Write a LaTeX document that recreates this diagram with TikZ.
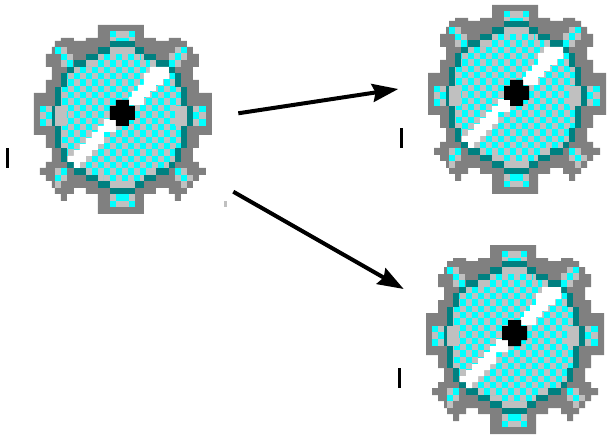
\documentclass[tikz,border=0pt]{standalone}
\usetikzlibrary{arrows.meta}
\definecolor{gearGray}{HTML}{808080}
\definecolor{gearLight}{HTML}{C0C0C0}
\definecolor{gearCyan}{HTML}{00FFFF}
\definecolor{gearTeal}{HTML}{008080}
\newcommand{\Rc}[5]{\fill[#1] (#2,#3) rectangle (#4,#5);}
\newcommand{\gearicon}[2]{%
\begin{scope}[shift={(#1,#2)},x=0.33333pt,y=-0.33333pt]
% outline
\fill[gearGray] (294,45)--(432,45)--(432,84)--(468,84)--(468,93)--(507,93)--(507,84)--(543,84)--(543,93)--(561,93)--(561,111)--(579,111)--(579,132)--(597,132)--(597,171)--(579,171)--(579,210)--(597,210)--(597,249)--(636,249)--(636,375)--(597,375)--(597,414)--(579,414)--(579,456)--(597,456)--(597,474)--(618,474)--(618,495)--(597,495)--(597,513)--(579,513)--(579,534)--(561,534)--(561,552)--(543,552)--(543,573)--(525,573)--(525,552)--(507,552)--(507,534)--(468,534)--(468,552)--(432,552)--(432,612)--(294,612)--(294,552)--(258,552)--(258,534)--(222,534)--(222,552)--(201,552)--(201,573)--(183,573)--(183,552)--(165,552)--(165,534)--(156,534)--(156,513)--(138,513)--(138,495)--(120,495)--(120,474)--(138,474)--(138,456)--(156,456)--(156,414)--(138,414)--(138,375)--(102,375)--(102,249)--(138,249)--(138,210)--(156,210)--(156,171)--(138,171)--(138,132)--(156,132)--(156,111)--(165,111)--(165,93)--(183,93)--(183,84)--(222,84)--(222,93)--(258,93)--(258,84)--(294,84)--cycle;
% light disk
\fill[gearLight] (330,111)--(405,111)--(405,132)--(432,132)--(432,150)--(468,150)--(468,171)--(507,171)--(507,189)--(525,189)--(525,231)--(543,231)--(543,288)--(561,288)--(561,348)--(543,348)--(543,414)--(525,414)--(525,456)--(507,456)--(507,474)--(468,474)--(468,495)--(432,495)--(432,513)--(405,513)--(405,534)--(330,534)--(330,513)--(294,513)--(294,495)--(258,495)--(258,474)--(222,474)--(222,456)--(201,456)--(201,414)--(183,414)--(183,348)--(165,348)--(165,288)--(183,288)--(183,231)--(201,231)--(201,189)--(222,189)--(222,171)--(258,171)--(258,150)--(294,150)--(294,132)--(330,132)--cycle;
% checker
\begin{scope}
\clip (312,132)--(423,132)--(423,150)--(450,150)--(450,171)--(507,171)--(507,189)--(525,189)--(525,231)--(543,231)--(543,288)--(525,288)--(525,348)--(543,348)--(543,414)--(525,414)--(525,456)--(507,456)--(507,474)--(450,474)--(450,495)--(423,495)--(423,513)--(312,513)--(312,495)--(276,495)--(276,474)--(222,474)--(222,456)--(201,456)--(201,414)--(183,414)--(183,348)--(201,348)--(201,288)--(183,288)--(183,231)--(201,231)--(201,189)--(222,189)--(222,171)--(294,171)--(294,150)--(312,150)--cycle;
\foreach \j in {0,...,20}{
 \pgfmathsetmacro{\yy}{3*round((132+19.05*\j)/3)}
 \pgfmathsetmacro{\yb}{3*round((132+19.05*(\j+1))/3)}
 \pgfmathsetmacro{\xs}{int(mod(\j,2))==0 ? 204 : 186}
 \foreach \i in {0,...,10}{
  \pgfmathsetmacro{\xa}{3*round((\xs+36.1*\i)/3)}
  \pgfmathsetmacro{\xb}{3*round((\xs+36.1*\i+18.05)/3)}
  \fill[gearCyan] (\xa,\yy) rectangle (\xb,\yb);
 }
}
\end{scope}
% teal ring
\foreach \a/\b/\c/\d in {330/93/405/111,294/111/330/132,405/111/432/132,258/132/294/150,432/132/468/150,222/150/258/171,468/150/507/171,201/171/222/189,507/171/525/189,183/189/201/231,525/189/543/231,165/231/183/288,543/231/561/288,156/288/165/348,561/288/579/348,165/348/183/414,543/348/561/414,183/414/201/456,525/414/543/456,201/456/222/474,507/456/525/474,222/474/258/495,468/474/507/495,258/495/294/513,432/495/468/513,294/513/330/534,405/513/432/534,330/534/405/552}{\Rc{gearTeal}{\a}{\b}{\c}{\d}}
% light parts of teeth and corners
\foreach \a/\b/\c/\d in {330/63/405/93,120/288/156/348,579/288/618/348,330/552/405/591,165/111/201/132,183/132/219/150,183/150/219/171,525/111/561/129,507/129/561/150,507/150/543/171,165/474/201/495,165/495/201/513,165/513/183/534,525/474/561/495,525/495/579/513,543/513/561/534}{\Rc{gearLight}{\a}{\b}{\c}{\d}}
% cyan parts of teeth and corners
\foreach \a/\b/\c/\d in {330/63/348/81,387/63/405/81,348/84/387/93,348/552/387/573,330/573/348/591,387/573/405/591,120/288/138/306,138/306/156/327,120/327/138/348,597/288/618/306,579/306/597/327,597/327/618/348,165/111/183/132,183/132/201/150,201/150/219/171,543/111/561/129,525/129/543/150,507/150/525/171,183/474/201/495,165/495/183/513,525/474/543/495,543/495/561/513}{\Rc{gearCyan}{\a}{\b}{\c}{\d}}
% white stripe
\fill[white] (450,171)--(507,171)--(507,207)--(489,207)--(489,225)--(468,225)--(468,243)--(450,243)--(450,261)--(432,261)--(432,285)--(387,285)--(387,261)--(396,261)--(396,243)--(414,243)--(414,225)--(432,225)--(432,189)--(450,189)--cycle;
\fill[white] (312,327)--(348,327)--(348,366)--(312,366)--(312,402)--(294,402)--(294,420)--(276,420)--(276,438)--(258,438)--(258,456)--(240,456)--(240,474)--(222,474)--(222,456)--(204,456)--(204,438)--(222,438)--(222,420)--(240,420)--(240,402)--(258,402)--(258,384)--(276,384)--(276,366)--(294,366)--(294,348)--(312,348)--cycle;
% hub
\fill[black] (348,270)--(387,270)--(387,288)--(405,288)--(405,330)--(387,330)--(387,348)--(348,348)--(348,330)--(330,330)--(330,288)--(348,288)--cycle;
\end{scope}}
\begin{document}
\begin{tikzpicture}[x=1pt,y=-1pt,
  flow/.style={line width=4pt,-{Stealth[length=26pt,width=18pt,inset=3pt]}},
  tickmark/.style={fill=black,minimum width=3pt,minimum height=20pt,inner sep=0pt,outer sep=0pt}]
\useasboundingbox (0,0) rectangle (610,436);
\gearicon{0}{10}
\gearicon{394}{-10}
\gearicon{392}{230}
\node[tickmark] (t1) at (7.5,158) {};
\node[tickmark] (t2) at (401.5,138) {};
\node[tickmark] (t3) at (399.5,378) {};
\node[fill=gearLight,minimum width=3pt,minimum height=6pt,inner sep=0pt] (spot) at (225.5,203.7) {};
\coordinate (a1) at (238.3,113.3);
\coordinate (b1) at (398.3,89);
\coordinate (a2) at (233.3,191.7);
\coordinate (b2) at (403.7,289);
\draw[flow] (a1) -- (b1);
\draw[flow] (a2) -- (b2);
\end{tikzpicture}
\end{document}
